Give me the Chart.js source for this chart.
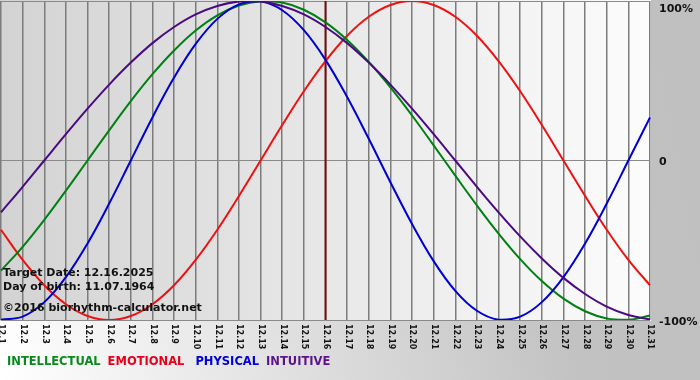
<!DOCTYPE html>
<html>
<head>
<meta charset="utf-8">
<script src="https://cdn.jsdelivr.net/npm/chart.js@4.4.1/dist/chart.umd.min.js"></script>
<style>
	html, body { margin: 0; padding: 0; background: #fff; }
	#wrap { width: 700px; height: 380px; position: relative; }
</style>
</head>
<body>
<div id="wrap"><canvas id="myChart" width="700" height="380"></canvas></div>
<script>
// december days shown on the x axis
const days = ['12.1', '12.2', '12.3', '12.4', '12.5', '12.6', '12.7', '12.8', '12.9', '12.10',
	'12.11', '12.12', '12.13', '12.14', '12.15', '12.16', '12.17', '12.18', '12.19', '12.20',
	'12.21', '12.22', '12.23', '12.24', '12.25', '12.26', '12.27', '12.28', '12.29', '12.30', '12.31'];

// values in percent
const intellectual = [-69.0, -54.1, -37.2, -18.9, 0, 18.9, 37.2, 54.1, 69.0, 81.5, 91.0, 97.2, 99.9, 99.0, 94.5,
	86.6, 75.6, 61.8, 45.8, 28.2, 9.5, -9.5, -28.2, -45.8, -61.8, -75.6, -86.6, -94.5, -99.0, -99.9, -97.2];
const emotional = [-43.4, -62.3, -78.2, -90.1, -97.5, -100, -97.5, -90.1, -78.2, -62.3, -43.4, -22.2, 0, 22.2, 43.4,
	62.3, 78.2, 90.1, 97.5, 100, 97.5, 90.1, 78.2, 62.3, 43.4, 22.2, 0, -22.2, -43.4, -62.3, -78.2];
const physical = [-99.8, -97.9, -88.8, -73.1, -52.0, -27.0, 0, 27.0, 52.0, 73.1, 88.8, 97.9, 99.8, 94.2, 81.7,
	63.1, 39.8, 13.6, -13.6, -39.8, -63.1, -81.7, -94.2, -99.8, -97.9, -88.8, -73.1, -52.0, -27.0, 0, 27.0];
const intuitive = [-32.5, -16.5, 0, 16.5, 32.5, 47.6, 61.4, 73.6, 83.7, 91.6, 96.9, 99.7, 99.7, 96.9, 91.6,
	83.7, 73.6, 61.4, 47.6, 32.5, 16.5, 0, -16.5, -32.5, -47.6, -61.4, -73.6, -83.7, -91.6, -96.9, -99.7];

const yTicks = [100, 0, -100];
const yTickLabels = ['100%', '0', '-100%'];
const targetDay = '12.16';
const infoLines = ['Target Date: 12.16.2025', 'Day of birth: 11.07.1964', '\u00a92016 biorhythm-calculator.net'];
const legendNames = ['INTELLECTUAL', 'EMOTIONAL', 'PHYSICAL', 'INTUITIVE'];
const legendColors = ['#0a8a1e', '#e8001a', '#0000d8', '#5b148a'];

const bgPlugin = {
	id: 'bgPlugin',
	beforeDraw(chart) {
		const ctx = chart.ctx;
		const a = chart.chartArea;
		// page background, light bottom-left to grey top-right
		let g = ctx.createLinearGradient(0, 380, 700, 250);
		g.addColorStop(0, '#ffffff');
		g.addColorStop(0.8, '#c2c2c2');
		g.addColorStop(1, '#c0c0c0');
		ctx.save();
		ctx.fillStyle = g;
		ctx.fillRect(0, 0, chart.width, chart.height);
		// plot background
		let pg = ctx.createLinearGradient(a.left, 0, a.right, 0);
		pg.addColorStop(0, '#d3d3d3');
		pg.addColorStop(1, '#fcfcfc');
		ctx.fillStyle = pg;
		ctx.fillRect(a.left - 1, a.top - 1, a.right - a.left + 2, a.bottom - a.top + 2);
		ctx.restore();
	},
	beforeDatasetsDraw(chart) {
		// target date marker
		const ctx = chart.ctx;
		const a = chart.chartArea;
		const x = chart.scales.x.getPixelForValue(days.indexOf(targetDay));
		ctx.save();
		ctx.strokeStyle = '#7a0c0c';
		ctx.lineWidth = 2;
		ctx.beginPath();
		ctx.moveTo(x, a.top);
		ctx.lineTo(x, a.bottom);
		ctx.stroke();
		ctx.restore();
	},
	afterDraw(chart) {
		const ctx = chart.ctx;
		const a = chart.chartArea;
		const xs = chart.scales.x;
		const ys = chart.scales.y;
		ctx.save();

		// rotated day labels under the plot
		ctx.fillStyle = '#111';
		ctx.font = 'bold 8px "DejaVu Sans"';
		ctx.textAlign = 'left';
		ctx.textBaseline = 'middle';
		for (var i = 0; i < days.length; i++) {
			let x = xs.getPixelForValue(i);
			ctx.save();
			ctx.translate(x + 0.5, a.bottom + 4);
			ctx.rotate(Math.PI / 2);
			ctx.fillText(days[i], 0, 0);
			ctx.restore();
		}

		// percent labels on the right
		ctx.font = 'bold 11px "DejaVu Sans"';
		for (var i = 0; i < yTicks.length; i++) {
			let y = ys.getPixelForValue(yTicks[i]);
			if (y < 7) y = 7;
			ctx.fillText(yTickLabels[i], a.right + 9, y + 2);
		}

		// info text inside the plot
		ctx.fillStyle = '#111';
		ctx.fillText(infoLines[0], 3, 273);
		ctx.fillText(infoLines[1], 3, 287);
		ctx.fillText(infoLines[2], 3, 308);

		// legend words
		ctx.font = 'bold 11.5px "DejaVu Sans"';
		let lx = 7;
		for (var i = 0; i < legendNames.length; i++) {
			ctx.fillStyle = legendColors[i];
			ctx.fillText(legendNames[i], lx, 362);
			lx += ctx.measureText(legendNames[i]).width + (i == 1 ? 11 : 7);
		}
		ctx.restore();
	}
};

let myChart;
function init() {
	const ctx = document.getElementById('myChart').getContext('2d');
	myChart = new Chart(ctx, {
		type: 'line',
		data: {
			labels: days,
			datasets: [
				{ label: 'INTUITIVE', data: intuitive, borderColor: '#4b0a82' },
				{ label: 'PHYSICAL', data: physical, borderColor: '#0000d0' },
				{ label: 'INTELLECTUAL', data: intellectual, borderColor: '#008010' },
				{ label: 'EMOTIONAL', data: emotional, borderColor: '#ee1111' },
			],
		},
		options: {
			responsive: false,
			animation: false,
			events: [],
			layout: { padding: { left: 1, right: 50, top: 1, bottom: 60 } },
			elements: {
				line: { borderWidth: 2, tension: 0.4, fill: false },
				point: { radius: 0 },
			},
			plugins: {
				legend: { display: false },
				tooltip: { enabled: false },
			},
			scales: {
				x: {
					offset: false,
					grid: { color: '#7c7c7c', lineWidth: 1.5, drawTicks: false },
					border: { display: false },
					ticks: { display: false },
				},
				y: {
					min: -100,
					max: 100,
					position: 'right',
					grid: { color: '#8a8a8a', lineWidth: 1, drawTicks: false },
					border: { display: false },
					ticks: { display: false, stepSize: 100 },
				}
			}
		},
		plugins: [bgPlugin]
	});
}

init();
</script>
</body>
</html>
